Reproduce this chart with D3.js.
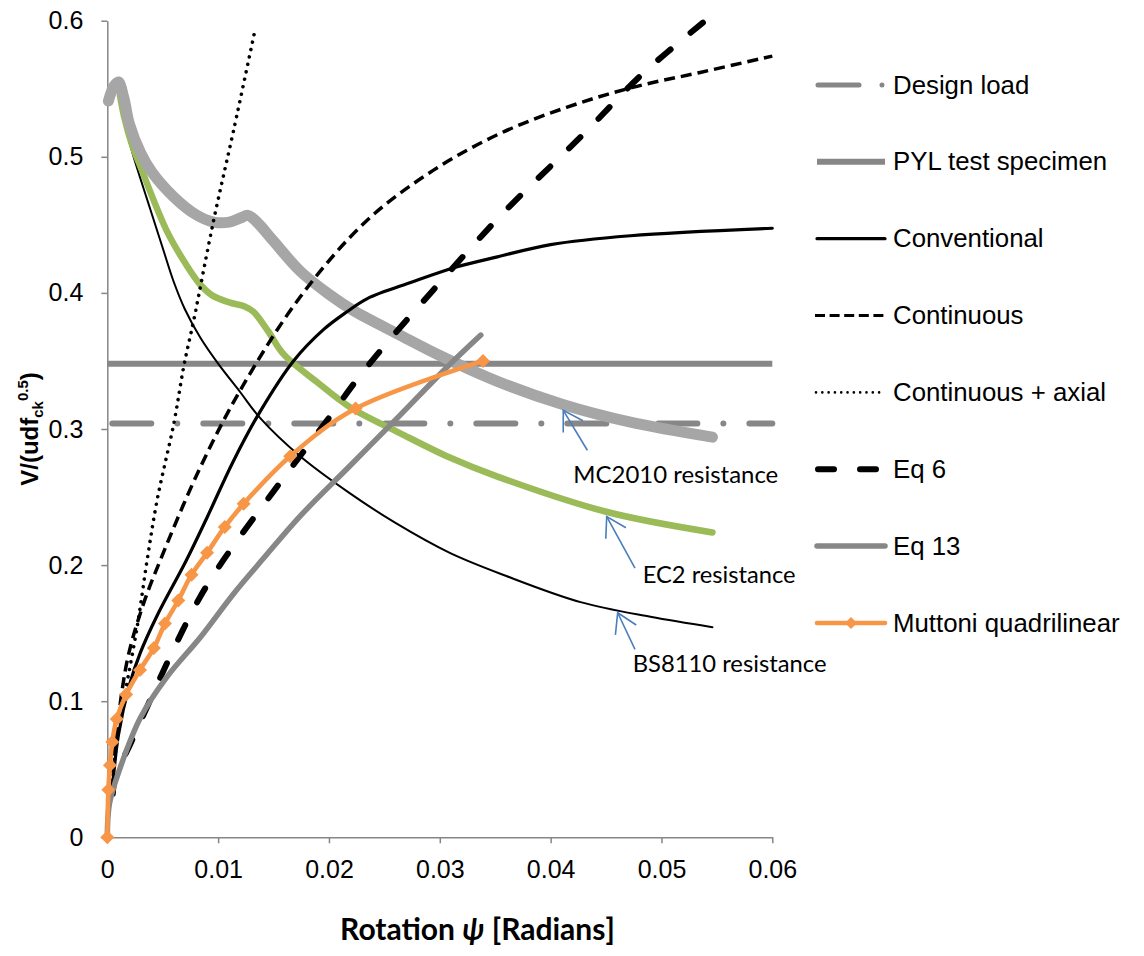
<!DOCTYPE html>
<html>
<head>
<meta charset="utf-8">
<script src="https://cdn.jsdelivr.net/npm/d3@7"></script>
<style>
  html, body { margin: 0; padding: 0; background: #fff; }
  svg { display: block; }
</style>
</head>
<body>
<svg id="chart" width="1144" height="956"></svg>
<script>
// ---------------- DATA ----------------
const xTicks = [0, 0.01, 0.02, 0.03, 0.04, 0.05, 0.06];
const yTicks = [0, 0.1, 0.2, 0.3, 0.4, 0.5, 0.6];

const designLoad = 0.304;
const pylTest = 0.348;

const conventional = [[0.0004,0.030],[0.0010,0.075],[0.0020,0.112],[0.0030,0.136],[0.0045,0.163],[0.0071,0.203],[0.0090,0.235],[0.01135,0.276],[0.0138,0.313],[0.0168,0.350],[0.0195,0.373],[0.0216,0.386],[0.0235,0.396],[0.0275,0.408],[0.0315,0.419],[0.0352,0.4265],[0.0400,0.4355],[0.0472,0.442],[0.0600,0.4475]];
const continuous = [[0.0004,0.035],[0.0007,0.066],[0.0018,0.130],[0.0032,0.170],[0.0048,0.204],[0.0084,0.272],[0.0120,0.3285],[0.0174,0.397],[0.0234,0.453],[0.0294,0.490],[0.0354,0.517],[0.0415,0.5365],[0.0474,0.551],[0.0535,0.562],[0.0600,0.574]];
const contAxial = [[0.0004,0.035],[0.0010,0.081],[0.0016,0.106],[0.0027,0.155],[0.0036,0.204],[0.0045,0.248],[0.0060,0.304],[0.0069,0.346],[0.0078,0.380],[0.0096,0.4535],[0.0114,0.5196],[0.0133,0.592]];
const eq6 = [[0.0005,0.032],[0.0007,0.044],[0.0021,0.069],[0.0036,0.096],[0.0051,0.123],[0.0068,0.152],[0.0084,0.177],[0.0105,0.204],[0.0153,0.2575],[0.0198,0.306],[0.0225,0.336],[0.0252,0.363],[0.0294,0.402],[0.0354,0.456],[0.0430,0.517],[0.0483,0.561],[0.0538,0.599]];
const eq13 = [[0,0],[0.0002,0.025],[0.0012,0.052],[0.0030,0.088],[0.0054,0.118],[0.0084,0.147],[0.0114,0.179],[0.0141,0.205],[0.0174,0.236],[0.0219,0.273],[0.0264,0.310],[0.0306,0.345],[0.0337,0.369]];
const muttoni = [[0,0],[0.0001,0.035],[0.00024,0.053],[0.00045,0.070],[0.00085,0.087],[0.0017,0.105],[0.00295,0.123],[0.0042,0.139],[0.0052,0.157],[0.0064,0.174],[0.0076,0.193],[0.0090,0.209],[0.0106,0.228],[0.0123,0.245],[0.0165,0.280],[0.0224,0.315],[0.0339,0.350]];
const mc2010 = [[0.0001,0.541],[0.0006,0.552],[0.0010,0.555],[0.0015,0.543],[0.0020,0.524],[0.0030,0.503],[0.0040,0.489],[0.0060,0.4705],[0.0080,0.4575],[0.0096,0.452],[0.0110,0.452],[0.0120,0.455],[0.0127,0.457],[0.0135,0.452],[0.0150,0.438],[0.0174,0.416],[0.0200,0.399],[0.0222,0.387],[0.0264,0.369],[0.0300,0.354],[0.0352,0.335],[0.0411,0.318],[0.0472,0.305],[0.0546,0.294]];
const ec2 = [[0.0010,0.552],[0.0015,0.530],[0.0023,0.507],[0.0030,0.4925],[0.0054,0.445],[0.0071,0.421],[0.0084,0.406],[0.0095,0.398],[0.0110,0.393],[0.0124,0.390],[0.0132,0.386],[0.0145,0.372],[0.0159,0.355],[0.0190,0.334],[0.0219,0.316],[0.0264,0.297],[0.0309,0.279],[0.0352,0.265],[0.0451,0.239],[0.0546,0.224]];
const bs8110 = [[0.0010,0.553],[0.0015,0.527],[0.0023,0.502],[0.0037,0.466],[0.0050,0.433],[0.0060,0.408],[0.0070,0.388],[0.0084,0.367],[0.0100,0.348],[0.0120,0.327],[0.0138,0.308],[0.0174,0.280],[0.0219,0.2527],[0.0260,0.231],[0.0309,0.209],[0.0360,0.192],[0.0427,0.1728],[0.0490,0.162],[0.0546,0.1544]];

const legendLabels = ["Design load","PYL test specimen","Conventional","Continuous","Continuous + axial","Eq 6","Eq 13","Muttoni quadrilinear"];

// annotation: label, arrow tip, arrow tail, text anchor (all in data units)
const annLabels = ["MC2010 resistance","EC2 resistance","BS8110 resistance"];
const annTips  = [[0.04114,0.3137],[0.04506,0.2356],[0.04605,0.1650]];
const annTails = [[0.04331,0.2844],[0.04761,0.1977],[0.04761,0.1381]];
const annText  = [[0.04205,0.2600],[0.04831,0.1868],[0.04740,0.1217]];
const annWidths = [205,153,194];

// ---------------- CHART ----------------
const svg = d3.select("#chart");
const x = d3.scaleLinear().domain([0,0.06]).range([107.3,772.3]);
const y = d3.scaleLinear().domain([0,0.6]).range([837.3,20.7]);

const axisColor = "#868686";
const sans = "'Liberation Sans', Arial, sans-serif";
const calib = "Lato, 'Open Sans', sans-serif";

const line = d3.line().x(d=>x(d[0])).y(d=>y(d[1])).curve(d3.curveCatmullRom.alpha(0.5));

// axes
const gy = svg.append("g").attr("transform",`translate(${x(0)},0)`)
  .call(d3.axisLeft(y).tickValues(yTicks).tickSize(6).tickSizeOuter(0).tickPadding(18)
    .tickFormat(d=> d===0 ? "0" : d3.format(".1f")(d)));
const gx = svg.append("g").attr("transform",`translate(0,${y(0)})`)
  .call(d3.axisBottom(x).tickValues(xTicks).tickSize(6).tickSizeOuter(0).tickPadding(17)
    .tickFormat(d=> d===0 ? "0" : d3.format(".2f")(d)));
[gx,gy].forEach(g=>{
  g.attr("font-family",sans).attr("font-size",25);
  g.select(".domain").attr("stroke",axisColor).attr("stroke-width",1.5);
  g.selectAll(".tick line").attr("stroke",axisColor).attr("stroke-width",1.5);
  g.selectAll(".tick text").attr("fill","#000").attr("font-family",sans).attr("font-size",25);
});

// style definitions
const styles = {
  design:  {stroke:"#878787", w:6, dash:"39 26 0.01 26", cap:"round"},
  pyl:     {stroke:"#878787", w:6, dash:null, cap:"butt"},
  conv:    {stroke:"#000", w:3.2, dash:null, cap:"round"},
  cont:    {stroke:"#000", w:3.5, dash:"11 6", cap:"butt"},
  axial:   {stroke:"#000", w:3.6, dash:"0.01 7.6", cap:"round"},
  eq6:     {stroke:"#000", w:6, dash:"16 26", cap:"round"},
  eq13:    {stroke:"#878787", w:5.5, dash:null, cap:"round"},
  mutt:    {stroke:"#f79646", w:4.6, dash:null, cap:"round"},
};
function applyStyle(sel, s){
  sel.attr("fill","none").attr("stroke",s.stroke).attr("stroke-width",s.w)
     .attr("stroke-linecap",s.cap).attr("stroke-linejoin","round");
  if (s.dash) sel.attr("stroke-dasharray",s.dash);
  return sel;
}

const plot = svg.append("g");

// design load line
applyStyle(plot.append("line"), styles.design)
  .attr("x1",x(0)).attr("x2",x(0.06)).attr("y1",y(designLoad)).attr("y2",y(designLoad))
  .attr("stroke-dashoffset",-5);
// PYL
applyStyle(plot.append("line"), styles.pyl)
  .attr("x1",x(0)).attr("x2",x(0.06)).attr("y1",y(pylTest)).attr("y2",y(pylTest));

// resistance curves
plot.append("path").datum(bs8110).attr("d",line).attr("fill","none").attr("stroke","#000").attr("stroke-width",2).attr("stroke-linecap","round");
plot.append("path").datum(ec2).attr("d",line).attr("fill","none").attr("stroke","#9bbb59").attr("stroke-width",6.5).attr("stroke-linecap","round").attr("stroke-linejoin","round");
plot.append("path").datum(mc2010).attr("d",line).attr("fill","none").attr("stroke","#a6a6a6").attr("stroke-width",11).attr("stroke-linecap","round").attr("stroke-linejoin","round");

// load-rotation curves
applyStyle(plot.append("path").datum(conventional).attr("d",line), styles.conv);
applyStyle(plot.append("path").datum(continuous).attr("d",line), styles.cont);
applyStyle(plot.append("path").datum(contAxial).attr("d",line), styles.axial);
applyStyle(plot.append("path").datum(eq6).attr("d",line), styles.eq6);
applyStyle(plot.append("path").datum(eq13).attr("d",line), styles.eq13);
applyStyle(plot.append("path").datum(muttoni).attr("d",line), styles.mutt);

const diamond = r => `M0,${-r}L${r},0L0,${r}L${-r},0Z`;
plot.selectAll("path.mk").data(muttoni).join("path").attr("class","mk")
  .attr("d",diamond(7)).attr("fill","#f79646")
  .attr("transform",d=>`translate(${x(d[0])},${y(d[1])})`);

// annotations
svg.append("defs").append("marker").attr("id","arrowOpen")
  .attr("viewBox","-22 -14 24 28").attr("refX",0).attr("refY",0)
  .attr("markerWidth",24).attr("markerHeight",28).attr("markerUnits","userSpaceOnUse")
  .attr("orient","auto")
  .append("path").attr("d","M-19,-11.5L0,0L-19,11.5").attr("fill","none")
  .attr("stroke","#4a7ebb").attr("stroke-width",1.6);

annLabels.forEach((lab,i)=>{
  svg.append("line")
    .attr("x1",x(annTails[i][0])).attr("y1",y(annTails[i][1]))
    .attr("x2",x(annTips[i][0])).attr("y2",y(annTips[i][1]))
    .attr("stroke","#4a7ebb").attr("stroke-width",1.6)
    .attr("marker-end","url(#arrowOpen)");
  const t = svg.append("text").attr("x",x(annText[i][0])).attr("y",y(annText[i][1]))
    .attr("font-family",calib).attr("font-size",22).attr("fill","#000").text(lab);
  const w = t.node().getComputedTextLength();
  t.attr("font-size",22*annWidths[i]/w);
});

// legend
const legKeys = ["design","pyl","conv","cont","axial","eq6","eq13","mutt"];
const legY0 = 85, legStep = 76.85, lx1 = 815, lx2 = 887;
legendLabels.forEach((lab,i)=>{
  const cy = legY0 + i*legStep;
  const s = styles[legKeys[i]];
  const g = svg.append("g");
  if (legKeys[i]==="design") {
    applyStyle(g.append("line"), s).attr("x1",lx1+3).attr("x2",lx2).attr("y1",cy).attr("y2",cy)
      .attr("stroke-width",5).attr("stroke-dasharray","41 23 0.01 100");
  } else if (legKeys[i]==="eq6") {
    applyStyle(g.append("line"), s).attr("x1",lx1+3).attr("x2",lx2).attr("y1",cy).attr("y2",cy)
      .attr("stroke-dasharray","16 26");
  } else if (legKeys[i]==="axial") {
    applyStyle(g.append("line"), s).attr("x1",lx1+1).attr("x2",lx2-6).attr("y1",cy).attr("y2",cy)
      .attr("stroke-width",2.6).attr("stroke-dasharray","0.01 6.3");
  } else if (legKeys[i]==="cont") {
    applyStyle(g.append("line"), s).attr("x1",lx1).attr("x2",lx2).attr("y1",cy).attr("y2",cy)
      .attr("stroke-width",3).attr("stroke-dasharray","10 4.6");
  } else {
    applyStyle(g.append("line"), s).attr("x1",lx1+2).attr("x2",lx2-2).attr("y1",cy).attr("y2",cy);
  }
  if (legKeys[i]==="mutt") {
    g.append("path").attr("d",diamond(6)).attr("fill","#f79646").attr("transform",`translate(${(lx1+lx2)/2},${cy})`);
  }
  g.append("text").attr("x",893).attr("y",cy+8.6).attr("font-family",sans).attr("font-size",25.8)
    .attr("fill","#000").text(lab);
});

// axis titles
const yt = svg.append("text").attr("transform","translate(38,429) rotate(-90)")
  .attr("text-anchor","middle").attr("font-family",sans).attr("font-weight","bold")
  .attr("font-size",24).attr("fill","#000");
yt.append("tspan").text("V/(udf");
yt.append("tspan").attr("font-size",15).attr("dy",5).text("ck");
yt.append("tspan").attr("font-size",15).attr("dy",-15).text("0.5");
yt.append("tspan").attr("dy",10).text(")");

const xt = svg.append("text").attr("x",477.5).attr("y",940).attr("text-anchor","middle")
  .attr("font-family",calib).attr("font-weight","bold").attr("font-size",26).attr("fill","#000");
xt.append("tspan").text("Rotation ");
xt.append("tspan").attr("font-style","italic").text("ψ");
xt.append("tspan").text(" [Radians]");
const xw = xt.node().getComputedTextLength();
xt.attr("font-size",26*275/xw);
</script>
</body>
</html>
